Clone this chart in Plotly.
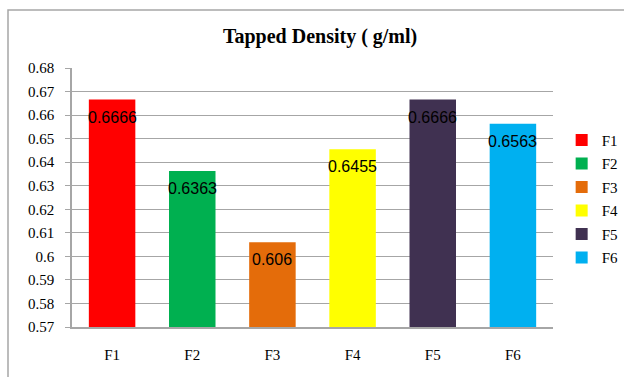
import plotly.graph_objects as go

categories = ["F1", "F2", "F3", "F4", "F5", "F6"]
values = [0.6666, 0.6363, 0.606, 0.6455, 0.6666, 0.6563]
labels = ["0.6666", "0.6363", "0.606", "0.6455", "0.6666", "0.6563"]
colors = ["#FF0000", "#00B050", "#E46C0A", "#FFFF00", "#403151", "#00B0F0"]
y_ticks = [0.57, 0.58, 0.59, 0.6, 0.61, 0.62, 0.63, 0.64, 0.65, 0.66, 0.67, 0.68]
y_tick_text = ["0.57", "0.58", "0.59", "0.6", "0.61", "0.62", "0.63", "0.64", "0.65", "0.66", "0.67", "0.68"]

serif = "Liberation Serif"
sans = "Liberation Sans"

fig = go.Figure()
for cat, val, col in zip(categories, values, colors):
    fig.add_trace(go.Bar(
        x=[cat], y=[val], name=cat, legendgroup=cat,
        marker=dict(color=col, line=dict(width=0)),
        width=0.58, offsetgroup="g",
    ))

# value labels just inside the top of each bar
for cat, val, lab in zip(categories, values, labels):
    fig.add_annotation(x=cat, y=val, text=lab, showarrow=False,
                       xanchor="center", yanchor="top", yshift=-7,
                       font=dict(family=sans, size=16, color="black"))

W, H = 624, 377
L, R, T, B = 72, 71, 68, 50
pw, ph = W - L - R, H - T - B

fig.update_layout(
    width=W, height=H,
    margin=dict(l=L, r=R, t=T, b=B, autoexpand=False),
    paper_bgcolor="white", plot_bgcolor="white",
    title=dict(text="<b>Tapped Density ( g/ml)</b>", x=0.513, xanchor="center",
               y=1 - 36 / H, yanchor="middle",
               font=dict(family=serif, size=20, color="black")),
    showlegend=True,
    legend=dict(x=1.018, y=0.785, xanchor="left", yanchor="top",
                font=dict(family=serif, size=15, color="black"),
                itemwidth=30, tracegroupgap=1, traceorder="grouped",
                bgcolor="rgba(0,0,0,0)"),
    barmode="group",
    xaxis=dict(showline=True, linecolor="#A6A6A6", linewidth=1.5,
               tickfont=dict(family=serif, size=15, color="black"),
               ticks="", ticklabelstandoff=13, showgrid=False, fixedrange=True),
    yaxis=dict(range=[0.57, 0.68], tickvals=y_ticks, ticktext=y_tick_text,
               showline=True, linecolor="#A6A6A6", linewidth=1.5,
               showgrid=True, gridcolor="#A6A6A6", gridwidth=1,
               ticks="outside", ticklen=5, tickcolor="#A6A6A6",
               ticklabelstandoff=8,
               tickfont=dict(family=serif, size=15, color="black"),
               zeroline=False, fixedrange=True),
)

# outer chart frame
fig.add_shape(type="rect", xref="paper", yref="paper",
              x0=(8 - L) / pw, x1=(630 - L) / pw,
              y0=(H - T - 385) / ph, y1=1 + (T - 10) / ph,
              line=dict(color="#A6A6A6", width=1.5), layer="below")

fig.write_html("out.html")
